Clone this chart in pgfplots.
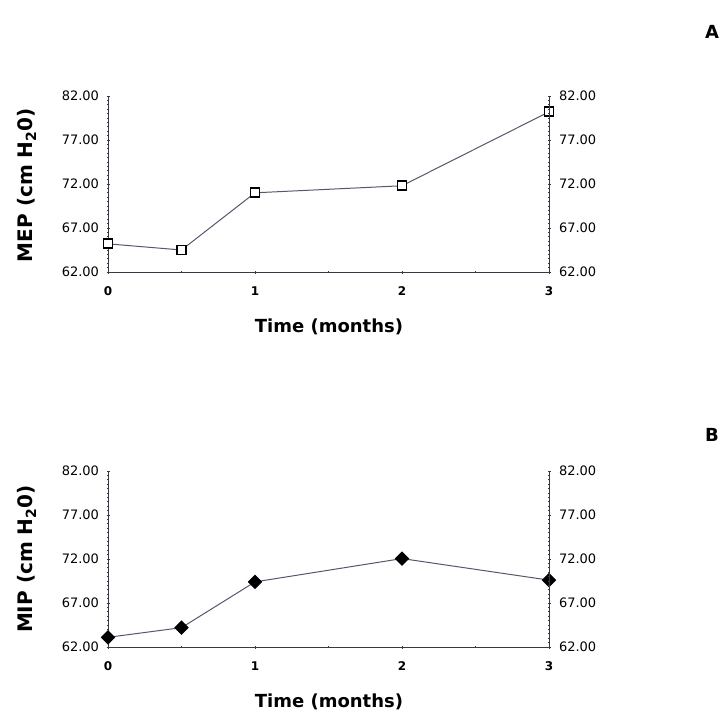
\documentclass[border=0pt]{standalone}
\usepackage{fontspec}
\setmainfont{DejaVu Sans}
\usepackage{pgfplots}
\pgfplotsset{compat=1.18}
\definecolor{axc}{RGB}{60,55,70}
\definecolor{linec}{RGB}{90,85,110}
\begin{document}
\begin{tikzpicture}
\path[use as bounding box] (0pt,0pt) rectangle (725pt,-715pt);
\pgfplotsset{
  base/.style={
    scale only axis, width=441pt, height=176pt,
    xmin=0, xmax=3, ymin=62, ymax=82,
    ytick={62,67,72,77,82}, minor y tick num=9,
    /pgf/number format/assume math mode=true,
    yticklabel style={/pgf/number format/fixed, /pgf/number format/fixed zerofill, /pgf/number format/precision=2, font=\fontsize{13}{15}\selectfont},
    axis line style={axc, line width=0.9pt},
    every tick/.style={axc, line width=0.7pt},
    major tick length=3pt, minor tick length=2pt,
    clip=false,
  },
  leftax/.style={base,
    axis x line*=bottom, axis y line*=left,
    xtick={0,1,2,3}, minor xtick={0.5,1.5,2.5},
    xticklabel style={font=\bfseries\fontsize{12}{14}\selectfont, yshift=-10pt},
    yticklabel style={xshift=-4pt},
    tick align=center,
  },
  rightax/.style={base,
    axis x line=none, axis y line*=right, tick align=center,
    yticklabel style={xshift=5pt},
  },
}
% Panel A
\begin{axis}[leftax, at={(108pt,-272pt)}, anchor=south west]
\addplot[linec, line width=1pt, mark=square*, mark size=4.5pt, mark options={draw=black, line width=1.8pt, fill=white}]
coordinates {(0,65.2) (0.5,64.5) (1,71.0) (2,71.8) (3,80.2)};
\end{axis}
\begin{axis}[rightax, at={(108pt,-272pt)}, anchor=south west]
\end{axis}
\node[font=\bfseries\fontsize{20}{22}\selectfont, rotate=90] at (27pt,-185pt) {MEP (cm H\textsubscript{2}0)};
\node[font=\bfseries\fontsize{18}{20}\selectfont] at (329pt,-327pt) {Time (months)};
\node[font=\bfseries\fontsize{18}{20}\selectfont] at (712pt,-32pt) {A};
% Panel B
\begin{axis}[leftax, at={(108pt,-647pt)}, anchor=south west]
\addplot[linec, line width=1pt, mark=square*, mark size=4.6pt, mark options={black, fill=black, rotate=45}]
coordinates {(0,63.1) (0.5,64.2) (1,69.4) (2,72.05) (3,69.6)};
\end{axis}
\begin{axis}[rightax, at={(108pt,-647pt)}, anchor=south west]
\end{axis}
\node[font=\bfseries\fontsize{20}{22}\selectfont, rotate=90] at (27pt,-559pt) {MIP (cm H\textsubscript{2}0)};
\node[font=\bfseries\fontsize{18}{20}\selectfont] at (329pt,-702pt) {Time (months)};
\node[font=\bfseries\fontsize{18}{20}\selectfont] at (712pt,-435pt) {B};
\end{tikzpicture}
\end{document}
